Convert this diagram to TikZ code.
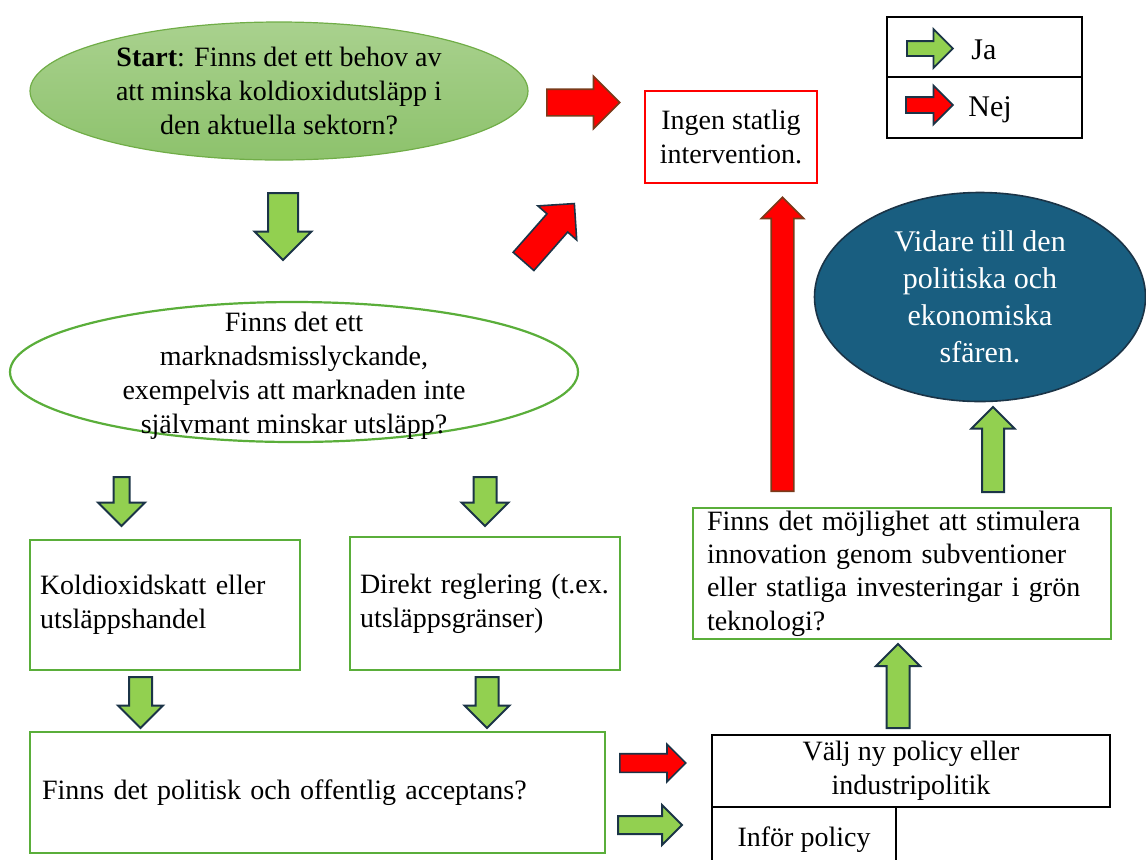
\documentclass[tikz,border=0pt]{standalone}
\usepackage{fontspec}
\setmainfont{Liberation Serif}
\usetikzlibrary{shapes.geometric,shapes.arrows}

\definecolor{jagreen}{HTML}{92D050}
\definecolor{boxgreen}{HTML}{5AAE3A}
\definecolor{startedge}{HTML}{70AD47}
\definecolor{starttop}{HTML}{A9D18E}
\definecolor{startbottom}{HTML}{8DC26C}
\definecolor{arrowedge}{HTML}{1B3447}
\definecolor{nejred}{HTML}{FF0000}
\definecolor{nejedge}{HTML}{7A3A1A}
\definecolor{sfarblue}{HTML}{195E80}

\begin{document}
\begin{tikzpicture}[
  x=0.5pt, y=-0.5pt,
  every node/.style={font=\fontsize{14pt}{17pt}\selectfont, inner sep=0pt},
  gbox/.style={draw=boxgreen, line width=1.1pt, rectangle, align=left, inner xsep=5pt},
  bbox/.style={draw=black, line width=1.1pt, rectangle, align=center},
  jaarrow/.style={single arrow, anchor=tail, draw=arrowedge, fill=jagreen, line width=1pt},
  nejarrow/.style={single arrow, anchor=tail, draw=nejedge, fill=nejred, line width=0.8pt},
  arr/.style n args={3}{minimum height=#1, inner xsep=0pt, inner ysep=#2, single arrow head extend=#3}
]
\useasboundingbox (0,0) rectangle (1146,859);

% first question
\node[ellipse, draw=startedge, line width=0.6pt, top color=starttop, bottom color=startbottom,
  minimum width=249pt, minimum height=69pt,
  label={[align=center]center:{\textbf{Start}: Finns det ett behov av\\att minska koldioxidutsläpp i\\den aktuella sektorn?}}]
  (start) at (279,91) {};

\node[jaarrow, arr={33.5pt}{7pt}{6.75pt}, rotate=-90] (ja1) at (283,192) {};
\node[nejarrow, arr={36.5pt}{6.25pt}{6.5pt}] (nej1) at (546,102.5) {};
\node[nejarrow, draw=arrowedge, arr={38.5pt}{6.5pt}{6pt}, rotate=48.7] (nej2) at (523,262) {};

\node[draw=nejred, line width=1.1pt, rectangle, align=center, minimum width=86pt, minimum height=46pt]
  (ingen) at (731,137) {Ingen statlig\\intervention.};

% legend
\node[bbox, minimum width=97.5pt, minimum height=30pt] (legja) at (984.5,47) {};
\node[bbox, minimum width=97.5pt, minimum height=30.5pt] (legnej) at (984.5,107.5) {};
\node[jaarrow, line width=0.9pt, arr={23pt}{3.25pt}{6pt}] (legjaarr) at (906,48.5) {};
\node[nejarrow, draw=arrowedge, line width=0.9pt, arr={23.5pt}{3.5pt}{5.75pt}] (legnejarr) at (905,105) {};
\node[anchor=west, font=\fontsize{15pt}{18pt}\selectfont] (jatext) at (971,50) {Ja};
\node[anchor=west, font=\fontsize{15pt}{18pt}\selectfont] (nejtext) at (968,110) {Nej};

% market failure
\node[ellipse, draw=boxgreen, line width=1.1pt, minimum width=284pt, minimum height=70pt,
  label={[align=center, yshift=-2pt]center:{Finns det ett\\marknadsmisslyckande,\\exempelvis att marknaden inte\\självmant minskar utsläpp?}}]
  (marknad) at (294,372) {};

\node[jaarrow, arr={24.5pt}{3.5pt}{7.75pt}, rotate=-90] (ja2) at (121.5,476) {};
\node[jaarrow, arr={24.5pt}{5.25pt}{6pt}, rotate=-90] (ja3) at (485,476) {};

\node[gbox, minimum width=135pt, minimum height=65pt, text width=125pt]
  (skatt) at (165,605) {Koldioxidskatt eller\\utsläppshandel};
\node[gbox, minimum width=135pt, minimum height=66.5pt, text width=125pt]
  (regler) at (485,603.5) {Direkt reglering (t.ex.\\utsläppsgränser)};

\node[jaarrow, arr={25.5pt}{5.25pt}{5.5pt}, rotate=-90] (ja4) at (140.5,676) {};
\node[jaarrow, arr={25.5pt}{5.25pt}{5.5pt}, rotate=-90] (ja5) at (487,676) {};

\node[gbox, minimum width=287.5pt, minimum height=60.5pt, text width=275.5pt, inner xsep=6pt]
  (accept) at (317.5,792.5) {Finns det politisk och offentlig acceptans?};

\node[nejarrow, draw=arrowedge, arr={33pt}{4.25pt}{4.75pt}] (nej3) at (619,763) {};
\node[jaarrow, arr={32pt}{4pt}{5.5pt}] (ja6) at (617,825) {};

% policy
\node[bbox, minimum width=199pt, minimum height=36pt] (valj) at (911,771) {Välj ny policy eller\\industripolitik};
\node[bbox, minimum width=92pt, minimum height=33pt] (infor) at (804,840) {Inför policy};

\node[jaarrow, arr={42pt}{5.25pt}{5.25pt}, rotate=90] (ja7) at (898,729) {};

\node[gbox, minimum width=209pt, minimum height=65.5pt, text width=195pt, inner xsep=7pt,
  font=\fontsize{14pt}{16.7pt}\selectfont]
  (innov) at (902,573.5) {Finns det möjlighet att stimulera\\innovation genom subventioner\\eller statliga investeringar i grön\\teknologi?};

\node[nejarrow, arr={147pt}{5.25pt}{5pt}, rotate=90] (nej4) at (782.5,492) {};
\node[jaarrow, arr={42.5pt}{5pt}{5.25pt}, rotate=90] (ja8) at (993,493) {};

\node[ellipse, draw=arrowedge, fill=sfarblue, line width=0.8pt, minimum width=165.5pt, minimum height=104.5pt,
  label={[align=center, text=white, font=\fontsize{15pt}{18.5pt}\selectfont]center:{Vidare till den\\politiska och\\ekonomiska\\sfären.}}]
  (sfar) at (980,297) {};
\end{tikzpicture}
\end{document}
